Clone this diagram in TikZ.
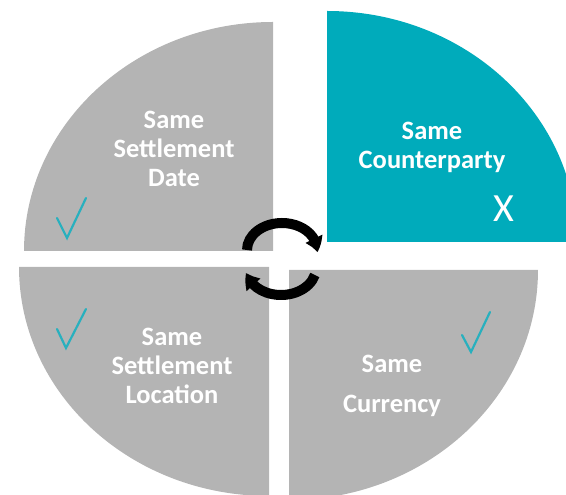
\documentclass[tikz,border=0pt]{standalone}
\usepackage{fontspec}
\setmainfont{Carlito}
\usetikzlibrary{arrows.meta,bending}
\definecolor{quadgray}{RGB}{180,180,180}
\definecolor{quadteal}{RGB}{0,171,187}
\definecolor{checkteal}{RGB}{40,176,190}
\tikzset{
  quadtext/.style={text=white,font=\fontsize{26.5}{29}\selectfont\bfseries,align=center,inner sep=0pt},
  checkmark/.style={draw=checkteal,line width=2.2pt,line cap=round,line join=miter},
  cyclearrow/.style={draw=black,line width=10pt,-{Triangle[width=18pt,length=14pt,bend]}},
}
\begin{document}
\begin{tikzpicture}[x=1pt,y=1pt]
\useasboundingbox (0,0) rectangle (566,495);
\clip (0,0) rectangle (566,495);
% quadrants
\fill[quadgray] (273,244) -- ++(-249,0) arc[start angle=180,end angle=90,x radius=249,y radius=229] -- cycle;
\fill[quadteal] (327,253) -- ++(0,231) arc[start angle=90,end angle=0,x radius=250,y radius=231] -- cycle;
\fill[quadgray] (269,228) -- ++(-250,0) arc[start angle=180,end angle=270,x radius=250,y radius=229] -- cycle;
\fill[quadgray] (289,225) -- ++(249,0) arc[start angle=0,end angle=-90,x radius=249,y radius=230] -- cycle;
% texts
\node[quadtext] (tl) at (174,346) {Same\\Settlement\\Date};
\node[quadtext] (tr) at (432,348) {Same\\Counterparty};
\node[quadtext] (bl) at (172,129) {Same\\Settlement\\Location};
\node[quadtext] (br1) at (392,131) {Same};
\node[quadtext] (br2) at (392,89) {Currency};
\node[text=white,font=\fontsize{40}{40}\selectfont,inner sep=0pt] (x) at (504,286) {X};
% check marks
\draw[checkmark] (57,277) -- (67,257) -- (86,297);
\draw[checkmark] (57,166) -- (66,147) -- (86,186);
\draw[checkmark] (462,160) -- (471,143) -- (490,183);
% cycle arrows
\draw[cyclearrow] (247,245) arc[start angle=180,end angle=-5,x radius=35,y radius=27];
\draw[cyclearrow] (314.8,220) arc[start angle=-15,end angle=-170,x radius=35,y radius=27];
\end{tikzpicture}
\end{document}
